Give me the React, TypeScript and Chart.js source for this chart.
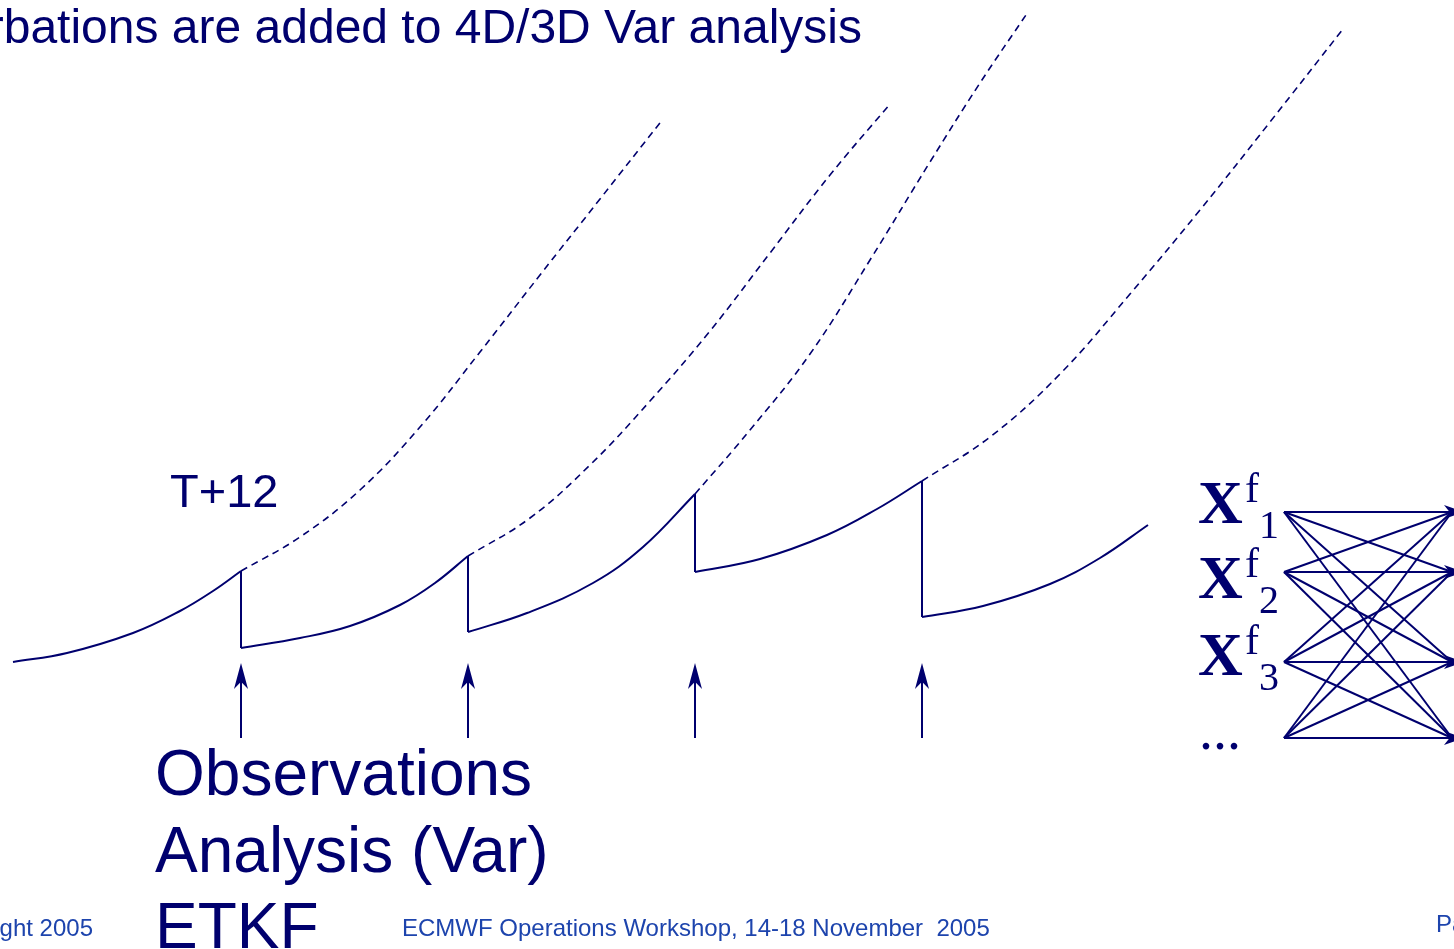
import React, { useEffect, useRef } from "react";
import { Chart, registerables } from "chart.js";
Chart.register(...registerables);

const NAVY = "#00006e";
const FOOT = "#1d44ad";

// Forecast-error trajectory pieces (solid = assimilation cycle)
const growth1 = [
  { x: 13, y: 662 }, { x: 67, y: 653 }, { x: 133, y: 633 }, { x: 180, y: 611 }, { x: 213, y: 591 }, { x: 241, y: 571 },
];
const growth2 = [
  { x: 241, y: 648 }, { x: 300, y: 638 }, { x: 350, y: 626 }, { x: 400, y: 605 }, { x: 435, y: 583 }, { x: 468, y: 556 },
];
const growth3 = [
  { x: 468, y: 632 }, { x: 527, y: 613 }, { x: 593, y: 583 }, { x: 643, y: 547 }, { x: 695, y: 494 },
];
const growth4 = [
  { x: 695, y: 572 }, { x: 760, y: 559 }, { x: 827, y: 535 }, { x: 877, y: 509 }, { x: 922, y: 481 },
];
const growth5 = [
  { x: 922, y: 617 }, { x: 983, y: 606 }, { x: 1050, y: 584 }, { x: 1100, y: 558 }, { x: 1148, y: 525 },
];

// Analysis update times and drop levels
const obsTimes = [241, 468, 695, 922];
const dropFrom = [571, 556, 494, 481];
const dropTo = [648, 632, 572, 617];

// Free-running (dashed) continuations
const free1 = [
  { x: 241, y: 571 }, { x: 300, y: 537 }, { x: 360, y: 490 }, { x: 420, y: 427 }, { x: 480, y: 352 }, { x: 540, y: 275 }, { x: 600, y: 199 }, { x: 663, y: 119 },
];
const free2 = [
  { x: 468, y: 556 }, { x: 530, y: 518 }, { x: 590, y: 465 }, { x: 650, y: 401 }, { x: 710, y: 331 }, { x: 770, y: 253 }, { x: 830, y: 175 }, { x: 890, y: 104 },
];
const free3 = [
  { x: 695, y: 494 }, { x: 750, y: 430 }, { x: 810, y: 354 }, { x: 870, y: 260 }, { x: 930, y: 162 }, { x: 980, y: 83 }, { x: 1028, y: 12 },
];
const free4 = [
  { x: 922, y: 481 }, { x: 990, y: 437 }, { x: 1060, y: 374 }, { x: 1130, y: 294 }, { x: 1200, y: 210 }, { x: 1270, y: 122 }, { x: 1343, y: 29 },
];

// Observation arrows
const obsArrowBottom = 738;
const obsArrowTip = 663;

// Ensemble transform links
const memberY = [512, 572, 662, 738];
const memberLeftX = 1284;
const memberRightX = 1462;
const memberSubscripts = ["1", "2", "3"];

// Texts
const titleText = "Perturbations are added to 4D/3D Var analysis";
const leadLabel = "T+12";
const legendLines = ["Observations", "Analysis (Var)", "ETKF"];
const footerLeft = "Copyright 2005";
const footerCenter = "ECMWF Operations Workshop, 14-18 November  2005";
const footerRight = "Page 10";

function buildDatasets() {
  const ds: any[] = [];
  const solid = (data: any[]) => ({
    data, showLine: true, borderColor: NAVY, borderWidth: 2, pointRadius: 0,
    tension: 0.4, fill: false,
  });
  const dashed = (data: any[]) => ({
    data, showLine: true, borderColor: NAVY, borderWidth: 1.6, pointRadius: 0,
    borderDash: [7, 5], tension: 0.4, fill: false,
  });
  [growth1, growth2, growth3, growth4, growth5].forEach((g) => ds.push(solid(g)));
  [free1, free2, free3, free4].forEach((g) => ds.push(dashed(g)));
  obsTimes.forEach((t, i) => {
    ds.push({
      data: [{ x: t, y: dropFrom[i] }, { x: t, y: dropTo[i] }],
      showLine: true, borderColor: NAVY, borderWidth: 2, pointRadius: 0, tension: 0,
    });
    ds.push({
      data: [{ x: t, y: obsArrowBottom }, { x: t, y: obsArrowTip + 10 }],
      showLine: true, borderColor: NAVY, borderWidth: 2, pointRadius: 0, tension: 0,
    });
  });
  memberY.forEach((ly) => {
    memberY.forEach((ry) => {
      ds.push({
        data: [{ x: memberLeftX, y: ly }, { x: memberRightX - 10, y: ry }],
        showLine: true, borderColor: NAVY, borderWidth: 2, pointRadius: 0, tension: 0,
      });
    });
  });
  return ds;
}

function arrowHead(ctx: CanvasRenderingContext2D, tx: number, ty: number, angle: number, len: number, half: number) {
  ctx.save();
  ctx.translate(tx, ty);
  ctx.rotate(angle);
  ctx.beginPath();
  ctx.moveTo(0, 0);
  ctx.lineTo(-len, -half);
  ctx.lineTo(-len * 0.72, 0);
  ctx.lineTo(-len, half);
  ctx.closePath();
  ctx.fillStyle = NAVY;
  ctx.fill();
  ctx.restore();
}

const decorPlugin = {
  id: "decor",
  afterDatasetsDraw(chart: any) {
    const ctx: CanvasRenderingContext2D = chart.ctx;
    const xs = chart.scales.x;
    const ys = chart.scales.y;
    const px = (v: number) => xs.getPixelForValue(v);
    const py = (v: number) => ys.getPixelForValue(v);
    ctx.save();
    // observation arrowheads
    obsTimes.forEach((t) => arrowHead(ctx, px(t), py(obsArrowTip), -Math.PI / 2, 26, 7));
    // ensemble arrowheads on the right
    memberY.forEach((ry) => arrowHead(ctx, px(memberRightX + 2), py(ry), 0, 20, 7));

    const text = (s: string, x: number, y: number, font: string, color: string, align: CanvasTextAlign = "left") => {
      ctx.font = font;
      ctx.fillStyle = color;
      ctx.textAlign = align;
      ctx.textBaseline = "alphabetic";
      ctx.fillText(s, px(x), py(y));
    };
    const sans = (n: number) => `${n}px "Liberation Sans", Arial, sans-serif`;
    const serif = (n: number, b = false) => `${b ? "bold " : ""}${n}px "Liberation Serif", "Times New Roman", serif`;

    text(titleText, 862, 43, sans(48), NAVY, "right");
    text(leadLabel, 170, 507, sans(47), NAVY);
    text(legendLines[0], 155, 795, sans(64), NAVY);
    text(legendLines[1], 155, 872, sans(64), NAVY);
    text(legendLines[2], 155, 948, sans(64), NAVY);

    const baseY = [523, 598, 675];
    memberSubscripts.forEach((s, i) => {
      text("X", 1198, baseY[i], serif(62, true), NAVY);
      text("f", 1245, baseY[i] - 21, serif(42), NAVY);
      text(s, 1259, baseY[i] + 15, serif(40), NAVY);
    });
    text("...", 1199, 749, serif(56), NAVY);

    text(footerLeft, 93, 936, sans(24), FOOT, "right");
    text(footerCenter, 402, 936, sans(24), FOOT);
    text(footerRight, 1436, 932, sans(24), FOOT);
    ctx.restore();
  },
};

export default function App() {
  const ref = useRef<HTMLCanvasElement | null>(null);
  useEffect(() => {
    document.body.style.margin = "0";
    const canvas = ref.current!;
    const chart = new Chart(canvas, {
      type: "scatter",
      data: { datasets: buildDatasets() },
      options: {
        animation: false,
        responsive: false,
        maintainAspectRatio: false,
        layout: { padding: 0 },
        plugins: { legend: { display: false }, tooltip: { enabled: false } },
        events: [],
        scales: {
          x: { type: "linear", min: 0, max: 1454, display: false },
          y: { type: "linear", min: 0, max: 949, reverse: true, display: false },
        },
      } as any,
      plugins: [decorPlugin],
    });
    return () => chart.destroy();
  }, []);
  return (
    <div style={{ position: "fixed", left: 0, top: 0, width: 1454, height: 949, background: "#fff" }}>
      <canvas ref={ref} width={1454} height={949} style={{ display: "block" }} />
    </div>
  );
}
